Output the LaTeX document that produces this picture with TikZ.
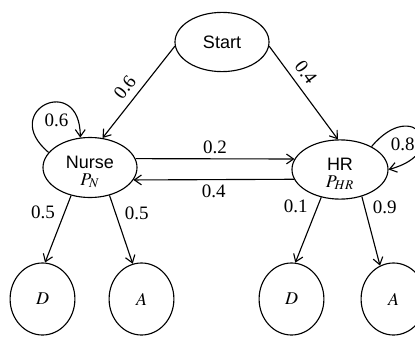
\documentclass[tikz,border=0pt]{standalone}
\usepackage{amsmath}
\usepackage{mathptmx}
\usepackage{fontspec}
\setmainfont{Liberation Serif}
\setsansfont{Liberation Sans}
\usepackage{tikz}
\usetikzlibrary{arrows.meta,automata}
\usetikzlibrary{shapes.geometric}

\begin{document}
\begin{tikzpicture}[x=0.025cm, y=-0.025cm, every edge/.style={draw,solid,line width=0.8pt}, auto,
                    font=\fontsize{13.5}{15}\selectfont,
                    every state/.style={draw=black!100,ellipse,line width=0.8pt,inner sep=1pt,
                                        font=\sffamily\fontsize{12.8}{12}\selectfont},
                    twoline/.style={state,align=center,text height=25pt,text depth=0pt},
                    leaf/.style={state,minimum width=1.62cm,minimum height=1.8cm},
                    >={Straight Barb[length=5pt,width=7pt]}]

\useasboundingbox (0,0) rectangle (415,336);
\clip (0,0) rectangle (415,336);

\node[state,minimum width=2.35cm,minimum height=1.48cm] (S) at (222,42) {Start};
\node[twoline,minimum width=2.35cm,minimum height=1.5cm] (N) at (90,167.5) {Nurse\\$P_N$};
\node[twoline,minimum width=2.4cm,minimum height=1.48cm] (H) at (340,169.5) {HR\\$P_{HR}$};
\node[leaf] (ND) at (42.5,299) {$D$};
\node[leaf] (NA) at (141.5,299) {$A$};
\node[leaf] (HD) at (291.5,299) {$D$};
\node[leaf] (HA) at (393.5,299) {$A$};

\path[->]
(S.185) edge node[sloped,pos=0.54,inner sep=5pt] {0.6} (N.67)
(S.-5) edge node[sloped,pos=0.37,inner sep=5pt] {0.4} (H.94)
(N.11) edge node {0.2} (H.167)
(H.192) edge node {0.4} (N.-16)
(N.-124) edge node[swap,pos=0.42] {0.5} (ND.86)
(N.-55) edge node[pos=0.44] {0.5} (NA.104)
(H.-124) edge node[swap,pos=0.32] {0.1} (HD.84)
(H.-51) edge node[pos=0.32] {0.9} (HA.112)
(N.160) edge[out=140,in=90,looseness=4.8] node[swap,pos=0.42] {0.6} (N.108)
(H.36) edge[out=50,in=15,looseness=5.9] node[swap] {0.8} (H.0);
\end{tikzpicture}
\end{document}
